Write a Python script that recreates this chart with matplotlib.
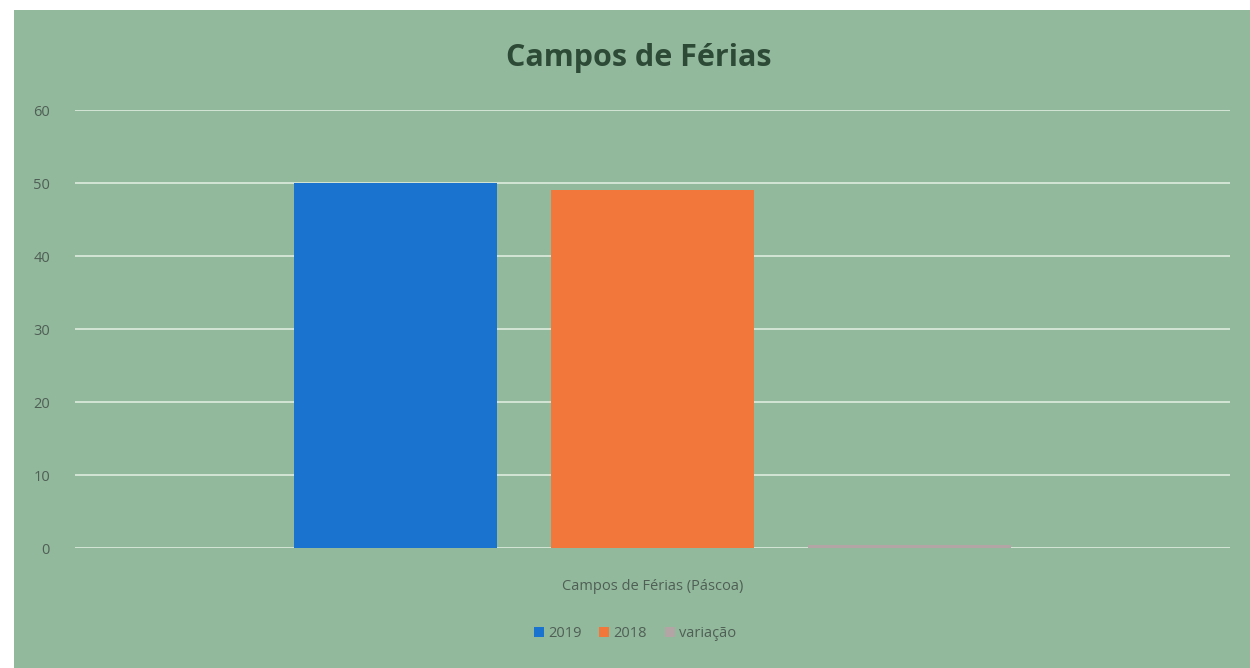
import matplotlib
matplotlib.use('Agg')
import matplotlib.pyplot as plt
from matplotlib.patches import Rectangle

# data
category = 'Campos de Férias (Páscoa)'
series_names = ['2019', '2018', 'variação']
series_values = [50, 49, 0.4]
series_colors = ['#1a74cf', '#f2773a', '#b3a5a5']
y_ticks = [0, 10, 20, 30, 40, 50, 60]

BG = '#93b99d'
TEXT = '#4f5f55'

plt.rcParams['font.family'] = ['Open Sans', 'DejaVu Sans']

fig = plt.figure(figsize=(12.5, 6.68), dpi=100)
fig.patch.set_facecolor('white')
fig.patches.append(Rectangle((14 / 1250, 0), 1 - 14 / 1250, 1 - 10 / 668,
                             transform=fig.transFigure, facecolor=BG,
                             edgecolor='none', zorder=-5))

ax = fig.add_axes([0.06, 0.1796, 0.924, 0.6557])
ax.set_zorder(2)
ax.set_facecolor('none')

step = 0.2225
width = 0.175
for i, (name, value, color) in enumerate(zip(series_names, series_values, series_colors)):
    ax.bar((i - 1) * step, value, width=width, color=color, label=name, zorder=3)

ax.set_xlim(-0.5, 0.5)
ax.set_ylim(0, 60)
ax.set_yticks(y_ticks)
ax.set_yticklabels([str(t) for t in y_ticks], color=TEXT, fontsize=10.5)
ax.tick_params(axis='y', length=0, pad=18)
ax.set_xticks([0])
ax.set_xticklabels([category], color=TEXT, fontsize=10.5)
ax.tick_params(axis='x', length=0, pad=22)
ax.grid(axis='y', color='#d3e6d6', linewidth=1.4, zorder=1)
for spine in ax.spines.values():
    spine.set_visible(False)

fig.text(0.511, 0.913, 'Campos de Férias', ha='center', va='center',
         fontsize=22, fontweight='bold', color='#2d4a37', zorder=3)

leg = fig.legend(loc='center', bbox_to_anchor=(0.508, 0.051), ncol=3, frameon=False,
                 fontsize=10.5, labelcolor=TEXT, handlelength=0.7, handleheight=0.7,
                 handletextpad=0.3, columnspacing=1.2)
leg.set_zorder(3)

fig.savefig('out.png', dpi=100, facecolor=fig.get_facecolor())
